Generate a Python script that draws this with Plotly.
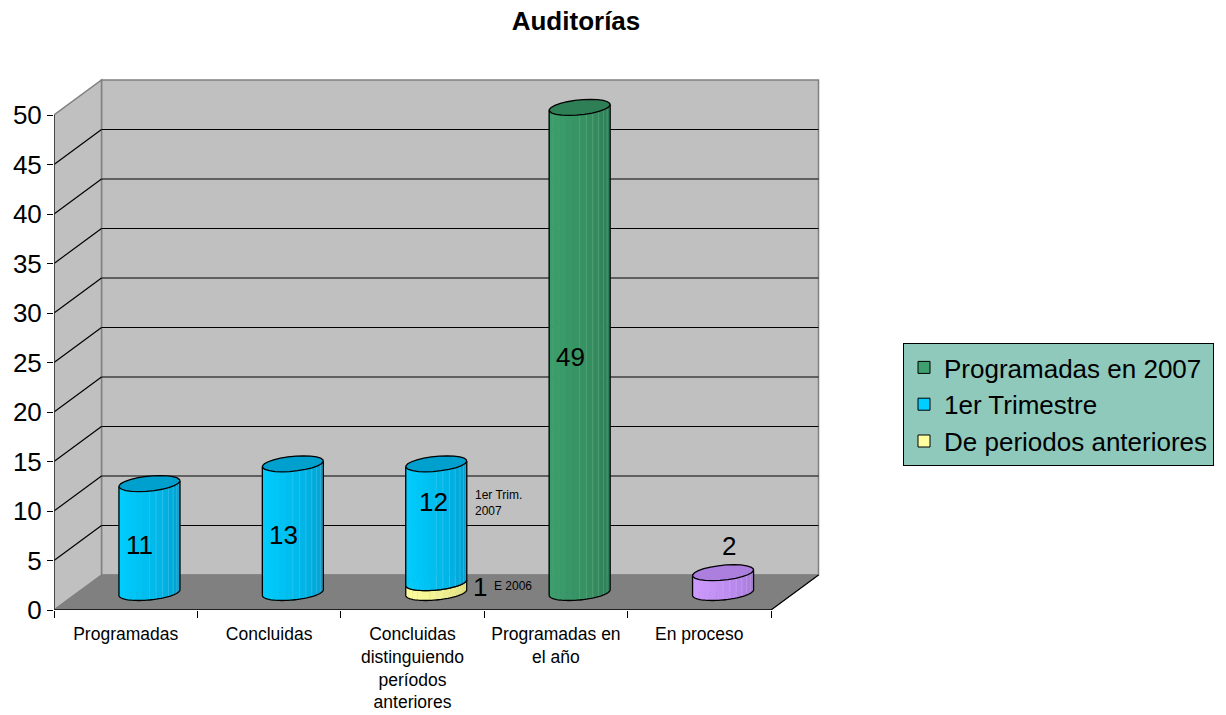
import math
import plotly.graph_objects as go

# ---- data -------------------------------------------------------------
categories = [
    "Programadas",
    "Concluidas",
    "Concluidas<br>distinguiendo<br>períodos<br>anteriores",
    "Programadas en<br>el año",
    "En proceso",
]
programadas_2007 = [None, None, None, 49, None]
primer_trimestre = [11, 13, 12, None, None]
periodos_anteriores = [None, None, 1, None, None]
en_proceso = [None, None, None, None, 2]
y_ticks = [0, 5, 10, 15, 20, 25, 30, 35, 40, 45, 50]

# ---- geometry of the 3-D box -------------------------------------------
FIG_W, FIG_H = 1226, 715
M_L, M_R, M_T, M_B = 54, 390, 70, 105
PX_PER_CAT = 143.4
PX_PER_UNIT = 9.9
X_MAX = (FIG_W - M_L - M_R) / PX_PER_CAT
Y_MAX = (FIG_H - M_T - M_B) / PX_PER_UNIT
DX = 47.5 / PX_PER_CAT          # depth offset, x data units
DY = 35.0 / PX_PER_UNIT         # depth offset, y data units
Y_TOP = y_ticks[-1]
N = len(categories)

# cylinder cross-section (pixels): half width and depth half-axes
R_PX, B_PX = 28.5, 8.0
A_PX = B_PX * 47.5 / 35.0
TH0 = math.atan2(A_PX, R_PX)
N_FACETS = 14

FONT = "Liberation Sans, Arial, sans-serif"

COLORS = {
    "green": dict(light=(62, 160, 110), dark=(38, 118, 78), top=(46, 126, 86)),
    "blue": dict(light=(0, 206, 255), dark=(0, 148, 198), top=(0, 160, 206)),
    "yellow": dict(light=(255, 255, 160), dark=(214, 214, 120), top=(235, 235, 140)),
    "purple": dict(light=(206, 156, 255), dark=(160, 112, 212), top=(172, 126, 222)),
}


def rgb(c):
    return "rgb(%d,%d,%d)" % tuple(int(round(v)) for v in c)


def mix(a, b, t):
    return tuple(a[i] + (b[i] - a[i]) * t for i in range(3))


def pt(cx, h, th):
    return (cx + (R_PX * math.cos(th) + A_PX * math.sin(th)) / PX_PER_CAT,
            h + (B_PX * math.sin(th)) / PX_PER_UNIT)


def path(points, close=True):
    s = "M " + " L ".join("%.5f,%.5f" % p for p in points)
    return s + (" Z" if close else "")


def bar_center(i):
    return i + 0.5 + DX / 2


BASE = DY / 2
shapes = []


def seg(x0, y0, x1, y1, color, width=1, layer="below"):
    shapes.append(dict(type="line", xref="x", yref="y", x0=x0, y0=y0, x1=x1, y1=y1,
                       line=dict(color=color, width=width), layer=layer))


# walls and floor
shapes.append(dict(type="path", xref="x", yref="y", layer="below",
                   path=path([(DX, DY), (DX + N, DY), (DX + N, DY + Y_TOP), (DX, DY + Y_TOP)]),
                   fillcolor="#C0C0C0", line=dict(color="#808080", width=1.5)))
shapes.append(dict(type="path", xref="x", yref="y", layer="below",
                   path=path([(0, 0), (DX, DY), (DX, DY + Y_TOP), (0, Y_TOP)]),
                   fillcolor="#C0C0C0", line=dict(color="#808080", width=1.5)))
shapes.append(dict(type="path", xref="x", yref="y", layer="below",
                   path=path([(0, 0), (N, 0), (N + DX, DY), (DX, DY)]),
                   fillcolor="#808080", line=dict(color="#808080", width=1)))
# gridlines on back and side walls
for v in y_ticks[1:-1]:
    seg(DX, DY + v, DX + N, DY + v, "#000000", 1.2)
    seg(0, v, DX, DY + v, "#000000", 1.2)
seg(0, 0, N, 0, "#000000", 1.5)
seg(N, 0, N + DX, DY, "#000000", 1.2)
seg(0, 0, 0, Y_TOP, "#303030", 1.5)


def cylinder(cx, lo, hi, pal):
    light, dark = pal["light"], pal["dark"]
    for k in range(N_FACETS):
        t0 = TH0 + math.pi + math.pi * k / N_FACETS
        t1 = TH0 + math.pi + math.pi * (k + 1) / N_FACETS
        f = ((k + 0.5) / N_FACETS) ** 1.7
        fill = mix(light, dark, f)
        edge = mix(fill, (255, 255, 255), 0.22) if k >= N_FACETS // 2 else fill
        shapes.append(dict(type="path", xref="x", yref="y", layer="above",
                           path=path([pt(cx, lo, t0), pt(cx, lo, t1), pt(cx, hi, t1), pt(cx, hi, t0)]),
                           fillcolor=rgb(fill), line=dict(color=rgb(edge), width=0.6)))
    arc = [pt(cx, lo, TH0 + math.pi + math.pi * k / 40) for k in range(41)]
    outline = [pt(cx, hi, TH0 + math.pi)] + arc + [pt(cx, hi, TH0)]
    shapes.append(dict(type="path", xref="x", yref="y", layer="above",
                       path=path(outline, close=False), fillcolor="rgba(0,0,0,0)",
                       line=dict(color="#000000", width=1.3)))
    top = [pt(cx, hi, 2 * math.pi * k / 24) for k in range(24)]
    shapes.append(dict(type="path", xref="x", yref="y", layer="above",
                       path=path(top), fillcolor=rgb(pal["top"]),
                       line=dict(color="#000000", width=1.3)))


fig = go.Figure()
BAR_W = 0.36

series = [
    ("Programadas en 2007", programadas_2007, "green", True),
    ("De periodos anteriores", periodos_anteriores, "yellow", True),
    ("1er Trimestre", primer_trimestre, "blue", True),
    ("En proceso", en_proceso, "purple", False),
]
legend_rank = {"Programadas en 2007": 1, "1er Trimestre": 2, "De periodos anteriores": 3}

for name, values, cname, in_legend in series:
    xs, ys, bases = [], [], []
    for i, v in enumerate(values):
        if v is None:
            continue
        under = 0
        if cname == "blue" and periodos_anteriores[i] is not None:
            under = periodos_anteriores[i]
        lo = BASE + under
        xs.append(bar_center(i))
        ys.append(v)
        bases.append(lo)
        cylinder(bar_center(i), lo, lo + v, COLORS[cname])
    fig.add_trace(go.Bar(
        x=xs, y=ys, base=bases, width=BAR_W, name=name,
        marker=dict(color=rgb(COLORS[cname]["light"]), line=dict(color="#000000", width=1)),
        showlegend=in_legend, legendgroup=name, legendrank=legend_rank.get(name, 10),
        hoverinfo="skip",
    ))

# ---- value labels --------------------------------------------------------
annotations = []


def label(x, y, text, size=26, anchor="center"):
    annotations.append(dict(x=x, y=y, xref="x", yref="y", text=text, showarrow=False,
                            xanchor=anchor, yanchor="middle",
                            font=dict(family=FONT, size=size, color="#000000")))


LABEL_DX = -9.5 / PX_PER_CAT
for i, v in enumerate(primer_trimestre):
    if v is not None and periodos_anteriores[i] is None:
        label(bar_center(i) + LABEL_DX, v / 2 + 1.05, str(v))
for i, v in enumerate(programadas_2007):
    if v is not None:
        label(bar_center(i) + LABEL_DX, v / 2 + 1.05, str(v))
for i, v in enumerate(en_proceso):
    if v is not None:
        label(bar_center(i) + 5.5 / PX_PER_CAT, BASE + v + 2.7, str(v))

# split bar: 1er trimestre part and earlier-period part with side notes
i3 = 2
right_edge = bar_center(i3) + math.hypot(R_PX, A_PX) / PX_PER_CAT
lo3 = periodos_anteriores[i3]
label(bar_center(i3) - 2.5 / PX_PER_CAT, lo3 + primer_trimestre[i3] * 0.83, str(primer_trimestre[i3]))
annotations.append(dict(x=right_edge + 6 / PX_PER_CAT, y=lo3 + primer_trimestre[i3] * 0.82,
                        xref="x", yref="y", text="1er Trim.<br>2007", showarrow=False,
                        xanchor="left", yanchor="middle", align="left",
                        font=dict(family=FONT, size=12, color="#000000")))
label(right_edge + 13.5 / PX_PER_CAT, BASE + lo3 / 2 + 0.1, str(lo3))
annotations.append(dict(x=right_edge + 25 / PX_PER_CAT, y=BASE + lo3 / 2 + 0.2,
                        xref="x", yref="y", text="E 2006", showarrow=False,
                        xanchor="left", yanchor="middle",
                        font=dict(family=FONT, size=12, color="#000000")))

fig.update_layout(
    width=FIG_W, height=FIG_H,
    margin=dict(l=M_L, r=M_R, t=M_T, b=M_B, autoexpand=False),
    paper_bgcolor="#FFFFFF", plot_bgcolor="#FFFFFF",
    barmode="overlay",
    shapes=shapes,
    annotations=annotations,
    title=dict(text="<b>Auditorías</b>", x=576 / FIG_W, xref="container", xanchor="center",
               y=1 - 21 / FIG_H, yref="container", yanchor="middle",
               font=dict(family=FONT, size=26, color="#000000")),
    font=dict(family=FONT, color="#000000"),
    xaxis=dict(range=[0, X_MAX], showgrid=False, zeroline=False, showline=False,
               tickmode="array", tickvals=[i + 0.5 for i in range(N)], ticktext=categories,
               ticks="outside", ticklen=8, tickcolor="rgba(0,0,0,0)",
               tickfont=dict(family=FONT, size=17.5, color="#000000"),
               minor=dict(tickmode="array", tickvals=list(range(N + 1)), ticks="outside",
                          ticklen=7, tickcolor="#000000", tickwidth=1, showgrid=False),
               fixedrange=True, automargin=False),
    yaxis=dict(range=[0, Y_MAX], showgrid=False, zeroline=False, showline=False,
               tickmode="array", tickvals=y_ticks, ticks="outside", ticklen=6,
               tickcolor="#000000", tickfont=dict(family=FONT, size=26, color="#000000"),
               fixedrange=True, automargin=False),
    legend=dict(xref="container", yref="container", x=903 / FIG_W, y=1 - 343 / FIG_H,
                xanchor="left", yanchor="top", bgcolor="#8EC9BB",
                bordercolor="#000000", borderwidth=1, tracegroupgap=0,
                font=dict(family=FONT, size=26, color="#000000")),
    showlegend=True,
)

fig.write_html("out.html")
